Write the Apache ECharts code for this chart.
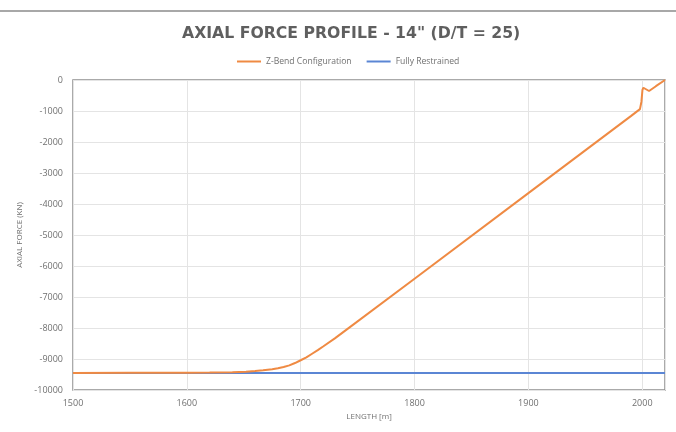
<!DOCTYPE html>
<html>
<head>
<meta charset="utf-8">
<script src="https://cdn.jsdelivr.net/npm/echarts@6/dist/echarts.min.js"></script>
<style>
  html, body { margin: 0; padding: 0; background: #ffffff; }
  #chart { width: 676px; height: 432px; }
</style>
</head>
<body>
<div id="chart"></div>
<script>
// Axial force along the pipeline length, 14" line with D/T = 25
const titleText = 'AXIAL FORCE PROFILE - 14" (D/T = 25)';
const seriesNames = ['Z-Bend Configuration', 'Fully Restrained'];

// Z-bend configuration profile: length [m] and axial force [kN]
const zBendLength = [1500, 1550, 1600, 1620, 1640, 1652, 1660, 1667, 1675, 1680, 1685, 1690,
                     1695, 1700, 1705, 1710, 1715, 1720, 1730, 1740, 1800, 1900, 1990, 1998,
                     1999.3, 2000.2, 2001, 2002.5, 2006, 2012, 2020];
const zBendForce  = [-9450, -9447, -9442, -9436, -9424, -9410, -9390, -9366, -9330, -9300, -9258, -9205,
                     -9130, -9040, -8945, -8830, -8715, -8590, -8335, -8060, -6410, -3650, -1166, -940,
                     -700, -320, -250, -285, -355, -200, 0];

// Fully restrained profile
const fixedLength = [1500, 2020];
const fixedForce  = [-9450, -9450];

// Axis ticks
const xMin = 1500, xMax = 2020, xStep = 100;
const yMin = -10000, yMax = 0, yStep = 1000;

const pairs = (xs, ys) => xs.map((x, i) => [x, ys[i]]);

const chart = echarts.init(document.getElementById('chart'), null, { renderer: 'canvas' });
const labelColor = '#707070';
const plain = v => String(v);

chart.setOption({
  backgroundColor: '#ffffff',
  animation: false,
  title: {
    text: titleText,
    left: 177,
    top: 21,
    textStyle: { fontFamily: 'DejaVu Sans', fontWeight: 'bold', fontSize: 15.7, color: '#5f5f5f' }
  },
  legend: {
    top: 52,
    left: 232,
    icon: 'rect',
    itemWidth: 24,
    itemHeight: 2,
    itemGap: 15,
    textStyle: { fontFamily: 'Open Sans', fontSize: 8.6, color: labelColor },
    data: seriesNames
  },
  grid: {
    left: 73, right: 11, top: 80, bottom: 42,
    show: true, borderColor: '#8f8f8f', borderWidth: 1.5
  },
  xAxis: {
    type: 'value',
    min: xMin, max: xMax, interval: xStep,
    name: 'LENGTH [m]',
    nameLocation: 'middle',
    nameGap: 23,
    nameTextStyle: { fontFamily: 'Open Sans', fontSize: 8, color: labelColor },
    axisLine: { show: false },
    axisTick: { show: false },
    axisLabel: { showMaxLabel: false, margin: 9, formatter: plain, fontFamily: 'Open Sans', fontSize: 9, color: labelColor },
    splitLine: { show: true, lineStyle: { color: '#e4e4e4', width: 1 } }
  },
  yAxis: {
    type: 'value',
    min: yMin, max: yMax, interval: yStep,
    name: 'AXIAL FORCE (KN)',
    nameLocation: 'middle',
    nameGap: 47,
    nameTextStyle: { fontFamily: 'Open Sans', fontSize: 8, color: labelColor },
    axisLine: { show: false },
    axisTick: { show: false },
    axisLabel: { margin: 10, formatter: plain, fontFamily: 'Open Sans', fontSize: 9, color: labelColor },
    splitLine: { show: true, lineStyle: { color: '#e4e4e4', width: 1 } }
  },
  series: [
    {
      name: seriesNames[0],
      type: 'line',
      data: pairs(zBendLength, zBendForce),
      symbol: 'none',
      smooth: false,
      lineStyle: { color: '#EF8A43', width: 2 },
      itemStyle: { color: '#EF8A43' },
      z: 3
    },
    {
      name: seriesNames[1],
      type: 'line',
      data: pairs(fixedLength, fixedForce),
      symbol: 'none',
      lineStyle: { color: '#5B86D4', width: 2 },
      itemStyle: { color: '#5B86D4' },
      z: 2
    }
  ],
  graphic: [
    {
      type: 'line',
      shape: { x1: 0, y1: 11, x2: 676, y2: 11 },
      style: { stroke: '#a8a8a8', lineWidth: 2 }
    }
  ]
});
</script>
</body>
</html>
